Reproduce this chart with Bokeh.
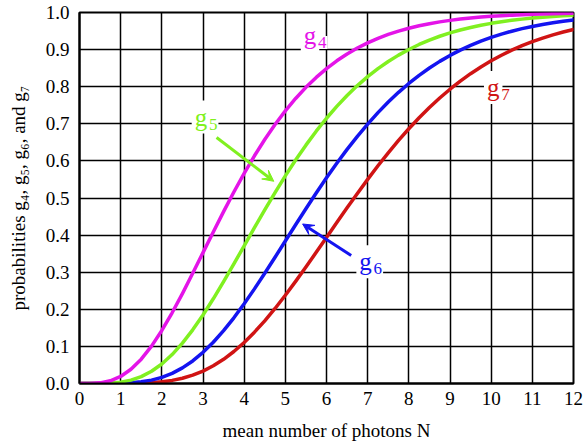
from bokeh.plotting import figure
from bokeh.models import FixedTicker, NumeralTickFormatter, Label, Arrow, VeeHead, Range1d
from bokeh.embed import file_html
from bokeh.resources import INLINE

N = [0, 0.25, 0.5, 0.75, 1, 1.25, 1.5, 1.75, 2, 2.25, 2.5, 2.75, 3, 3.25, 3.5, 3.75, 4, 4.25, 4.5, 4.75,
     5, 5.25, 5.5, 5.75, 6, 6.25, 6.5, 6.75, 7, 7.25, 7.5, 7.75, 8, 8.25, 8.5, 8.75, 9, 9.25, 9.5, 9.75,
     10, 10.25, 10.5, 10.75, 11, 11.25, 11.5, 11.75, 12]
g4 = [0, 0.00012, 0.00175, 0.00729, 0.01899, 0.03827, 0.06564, 0.10080, 0.14288, 0.19057, 0.24242, 0.29696,
      0.35277, 0.40859, 0.46337, 0.51623, 0.56653, 0.61379, 0.65770, 0.69811, 0.73497, 0.76833, 0.79830, 0.82505,
      0.84880, 0.86975, 0.88815, 0.90424, 0.91824, 0.93037, 0.94085, 0.94988, 0.95762, 0.96424, 0.96989, 0.97470,
      0.97877, 0.98222, 0.98514, 0.98760, 0.98966, 0.99140, 0.99285, 0.99407, 0.99508, 0.99593, 0.99664, 0.99722,
      0.99771]
g5 = [0, 0.000006, 0.00017, 0.00107, 0.00366, 0.00912, 0.01858, 0.03289, 0.05265, 0.07802, 0.10882, 0.14462,
      0.18474, 0.22835, 0.27456, 0.32245, 0.37116, 0.41988, 0.46790, 0.51460, 0.55951, 0.60223, 0.64248, 0.68009,
      0.71494, 0.74702, 0.77633, 0.80296, 0.82701, 0.84862, 0.86794, 0.88513, 0.90037, 0.91381, 0.92564, 0.93599,
      0.94504, 0.95291, 0.95974, 0.96565, 0.97075, 0.97514, 0.97891, 0.98214, 0.98490, 0.98725, 0.98925, 0.99096,
      0.99240]
g6 = [0, 0.0000003, 0.000014, 0.00013, 0.00059, 0.00183, 0.00446, 0.00913, 0.01656, 0.02737, 0.04202, 0.06084,
      0.08392, 0.11119, 0.14239, 0.17712, 0.21487, 0.25506, 0.29707, 0.34027, 0.38404, 0.42782, 0.47108, 0.51338,
      0.55432, 0.59360, 0.63096, 0.66623, 0.69929, 0.73008, 0.75856, 0.78478, 0.80876, 0.83060, 0.85040, 0.86826,
      0.88431, 0.89867, 0.91147, 0.92284, 0.93291, 0.94180, 0.94962, 0.95648, 0.96248, 0.96772, 0.97227, 0.97623,
      0.97966]
g7 = [0, 0.0, 0.000001, 0.000015, 0.00008, 0.00032, 0.00093, 0.00219, 0.00453, 0.00837, 0.01419, 0.02244,
      0.03351, 0.04772, 0.06529, 0.08628, 0.11067, 0.13831, 0.16895, 0.20225, 0.23782, 0.27521, 0.31397, 0.35361,
      0.39370, 0.43379, 0.47348, 0.51242, 0.55029, 0.58684, 0.62185, 0.65515, 0.68663, 0.71620, 0.74382, 0.76949,
      0.79322, 0.81505, 0.83505, 0.85329, 0.86986, 0.88485, 0.89837, 0.91051, 0.92139, 0.93109, 0.93973, 0.94739,
      0.95418]

x_ticks = list(range(0, 13))
y_ticks = [0.0, 0.1, 0.2, 0.3, 0.4, 0.5, 0.6, 0.7, 0.8, 0.9, 1.0]

FONT = "Liberation Serif"
C4, C5, C6, C7 = "#E414E8", "#80F020", "#1414F0", "#D01414"

p = figure(width=583, height=448, output_backend="svg", toolbar_location=None,
           x_range=Range1d(0, 12), y_range=Range1d(0, 1),
           min_border_left=79, min_border_right=10, min_border_top=12, min_border_bottom=65)

p.outline_line_color = "black"
p.outline_line_width = 2
p.background_fill_color = "white"
p.border_fill_color = "white"

for ax in (p.xaxis[0], p.yaxis[0]):
    ax.axis_line_color = "black"
    ax.axis_line_width = 2
    ax.major_tick_out = 0
    ax.major_tick_in = 0
    ax.minor_tick_out = 0
    ax.minor_tick_in = 0
    ax.major_label_text_font = FONT
    ax.major_label_text_font_size = "19px"
    ax.major_label_text_color = "black"
    ax.axis_label_text_font = FONT
    ax.axis_label_text_font_size = "19px"
    ax.axis_label_text_font_style = "normal"
    ax.axis_label_text_color = "black"

p.xaxis.ticker = FixedTicker(ticks=x_ticks)
p.yaxis.ticker = FixedTicker(ticks=y_ticks)
p.yaxis.formatter = NumeralTickFormatter(format="0.0")
p.xaxis.major_label_standoff = 8
p.yaxis.major_label_standoff = 10
p.xaxis.axis_label = "mean number of photons N"
p.yaxis.axis_label = "probabilities g\u2084, g\u2085, g\u2086, and g\u2087"
p.xaxis.axis_label_standoff = 12
p.yaxis.axis_label_standoff = 14

p.xgrid.grid_line_color = "black"
p.ygrid.grid_line_color = "black"
p.xgrid.grid_line_width = 1.5
p.ygrid.grid_line_width = 1.5
p.xgrid.grid_line_alpha = 1
p.ygrid.grid_line_alpha = 1

for ys, c in ((g7, C7), (g6, C6), (g5, C5), (g4, C4)):
    p.line(N, ys, line_color=c, line_width=3.5, line_join="round", line_cap="round")

# arrows
p.add_layout(Arrow(end=VeeHead(size=11, line_color=C5, fill_color=C5, line_width=1),
                   x_start=3.33, y_start=0.663, x_end=4.72, y_end=0.545,
                   line_color=C5, line_width=3))
p.add_layout(Arrow(end=VeeHead(size=11, line_color=C6, fill_color=C6, line_width=1),
                   x_start=6.6, y_start=0.345, x_end=5.42, y_end=0.43,
                   line_color=C6, line_width=3))

def glabel(x, y, sub, color):
    p.add_layout(Label(x=x, y=y, text="g", text_font=FONT, text_font_size="25px",
                       text_color=color, text_align="center", text_baseline="middle",
                       background_fill_color="white", padding=3, y_offset=3))
    p.add_layout(Label(x=x, y=y, text=sub, text_font=FONT, text_font_size="17px",
                       text_color=color, text_align="left", text_baseline="middle",
                       background_fill_color="white", padding=1, x_offset=7, y_offset=-4))

glabel(5.6, 0.93, "4", C4)
glabel(2.95, 0.71, "5", C5)
glabel(6.95, 0.32, "6", C6)
glabel(10.05, 0.79, "7", C7)

open("out.html", "w").write(file_html(p, INLINE))
